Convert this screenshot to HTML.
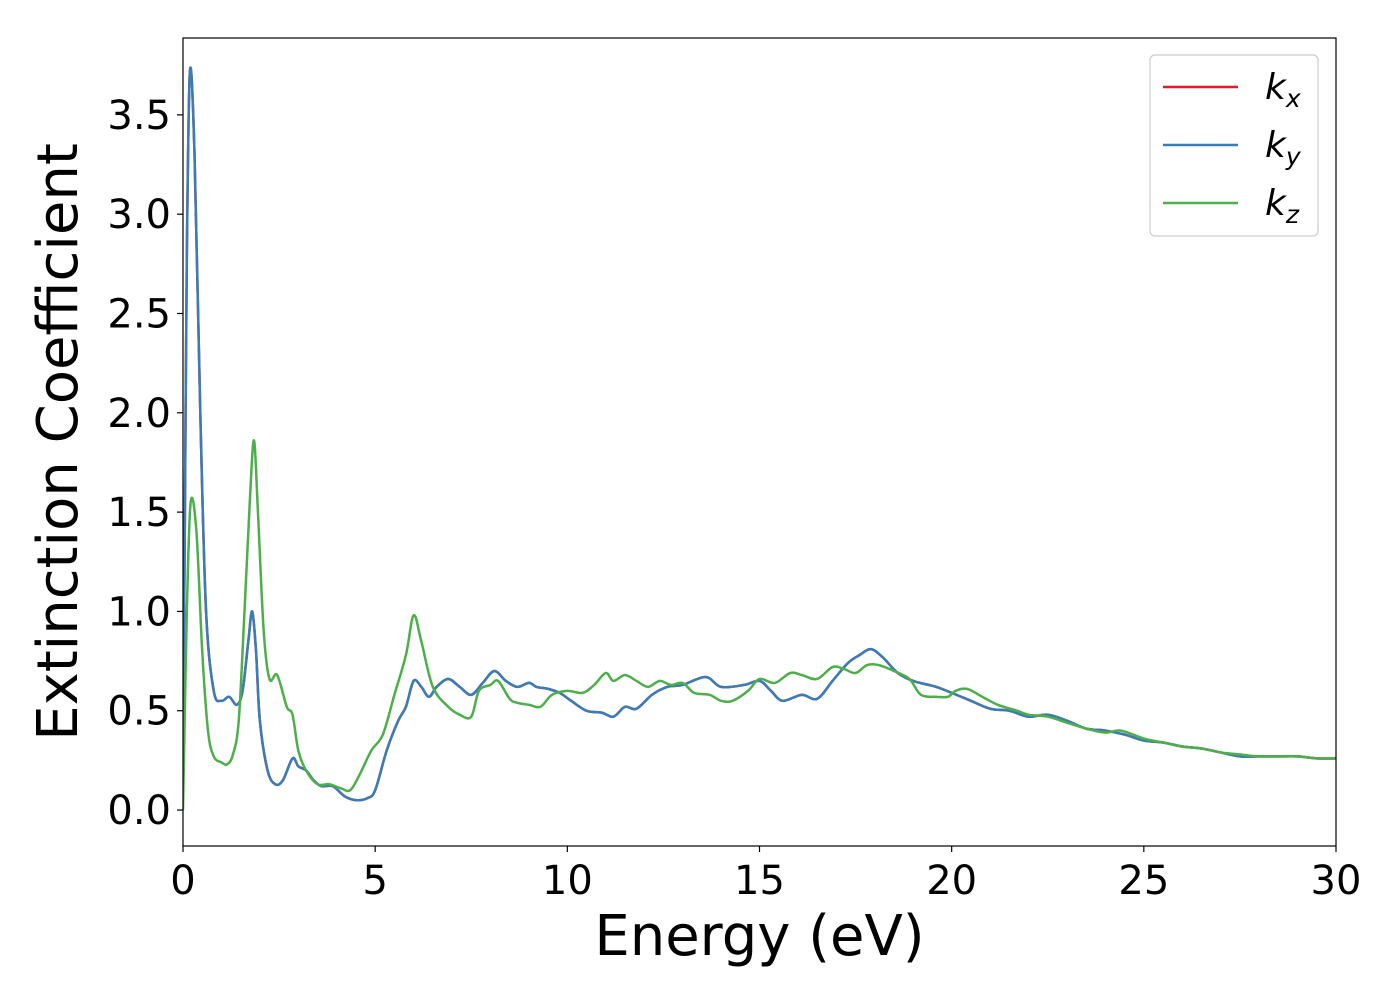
<!DOCTYPE html>
<html><head><meta charset="utf-8"><style>
body{margin:0;background:#fff;}
svg text{font-family:"DejaVu Sans","Liberation Sans",sans-serif;fill:#000;}
</style></head><body>
<svg id="chart" width="1400" height="1000" xmlns="http://www.w3.org/2000/svg">
<g id="plot"></g>
</svg>
<script>
const kxE=[0,0.05,0.1,0.18,0.3,0.45,0.6,0.8,1.0,1.2,1.4,1.55,1.7,1.8,1.9,2.0,2.2,2.4,2.6,2.85,3.0,3.2,3.4,3.6,3.9,4.2,4.5,4.8,5.0,5.3,5.6,5.8,6.0,6.2,6.4,6.6,6.9,7.2,7.5,7.8,8.1,8.4,8.7,9.0,9.2,9.5,9.8,10.1,10.5,10.9,11.2,11.5,11.8,12.2,12.6,13.0,13.6,14.0,14.6,15.0,15.3,15.6,16.1,16.5,16.9,17.3,17.6,17.9,18.2,18.6,19.0,19.6,20.0,20.5,21.0,21.5,22.0,22.5,23.0,23.5,24.0,24.5,25.0,25.5,26,26.5,27,27.5,28,28.5,29,29.5,30];
const kxV=[0.3,1.5,2.8,3.72,3.3,2.0,1.0,0.6,0.55,0.57,0.53,0.6,0.85,1.0,0.8,0.45,0.2,0.13,0.15,0.26,0.22,0.2,0.15,0.12,0.12,0.07,0.05,0.06,0.1,0.3,0.45,0.52,0.65,0.62,0.57,0.62,0.66,0.62,0.58,0.64,0.7,0.65,0.62,0.64,0.62,0.61,0.59,0.55,0.5,0.49,0.47,0.52,0.51,0.58,0.62,0.63,0.67,0.62,0.63,0.65,0.6,0.55,0.58,0.56,0.65,0.74,0.78,0.81,0.77,0.69,0.65,0.62,0.59,0.55,0.51,0.5,0.47,0.48,0.45,0.41,0.4,0.38,0.35,0.34,0.32,0.31,0.29,0.27,0.27,0.27,0.27,0.26,0.26];
const kyV=kxV.slice();
const kzE=[0,0.1,0.2,0.35,0.5,0.65,0.8,1.0,1.15,1.3,1.45,1.6,1.75,1.85,1.95,2.1,2.25,2.45,2.7,2.85,3.0,3.2,3.5,3.8,4.1,4.35,4.6,4.9,5.2,5.5,5.8,6.0,6.2,6.5,6.9,7.2,7.5,7.7,8.0,8.2,8.5,8.7,9.0,9.3,9.6,10.0,10.4,10.7,11.0,11.2,11.5,11.8,12.1,12.4,12.7,13.0,13.3,13.7,14.0,14.3,14.7,15.0,15.4,15.8,16.1,16.5,16.9,17.2,17.5,17.8,18.1,18.5,18.9,19.2,19.6,19.9,20.1,20.4,20.8,21.2,21.7,22.0,22.5,23.0,23.5,24.0,24.4,25.0,25.5,26,26.5,27,27.5,28,29,29.5,30];
const kzV=[0.0,1.0,1.55,1.4,0.8,0.4,0.27,0.24,0.23,0.28,0.45,1.0,1.6,1.86,1.5,0.9,0.66,0.68,0.52,0.48,0.3,0.2,0.13,0.13,0.11,0.1,0.18,0.3,0.38,0.58,0.78,0.98,0.85,0.62,0.52,0.48,0.47,0.6,0.63,0.65,0.56,0.54,0.53,0.52,0.58,0.6,0.59,0.63,0.69,0.65,0.68,0.65,0.62,0.65,0.63,0.64,0.59,0.58,0.55,0.55,0.6,0.66,0.64,0.69,0.68,0.66,0.72,0.71,0.69,0.73,0.73,0.7,0.66,0.58,0.57,0.57,0.6,0.61,0.57,0.53,0.5,0.48,0.47,0.44,0.41,0.39,0.4,0.36,0.34,0.32,0.31,0.29,0.28,0.27,0.27,0.26,0.26];
const xTicks=[0,5,10,15,20,25,30];
const yTicks=[0.0,0.5,1.0,1.5,2.0,2.5,3.0,3.5];
const L=183,R=1336,T=38,B=846,xMin=0,xMax=30,yMin=-0.181,yMax=3.887;
const sx=v=>L+(v-xMin)/(xMax-xMin)*(R-L);
const sy=v=>B-(v-yMin)/(yMax-yMin)*(B-T);
const NS="http://www.w3.org/2000/svg";
const g=document.getElementById('plot');
function mk(t,a,p){const e=document.createElementNS(NS,t);for(const k in a)e.setAttribute(k,a[k]);(p||g).appendChild(e);return e;}
function smoothPath(E,V){
 const P=E.map((e,i)=>[sx(e),sy(V[i])]);let d='M'+P[0][0]+','+P[0][1];
 for(let i=0;i<P.length-1;i++){const p0=P[i-1]||P[i],p1=P[i],p2=P[i+1],p3=P[i+2]||p2;
  const c1=[p1[0]+(p2[0]-p0[0])/6,p1[1]+(p2[1]-p0[1])/6],c2=[p2[0]-(p3[0]-p1[0])/6,p2[1]-(p3[1]-p1[1])/6];
  d+=`C${c1[0]},${c1[1]} ${c2[0]},${c2[1]} ${p2[0]},${p2[1]}`;}
 return d;}
mk('clipPath',{id:'clip'}).appendChild(document.createElementNS(NS,'rect'));
const cr=g.querySelector('#clip rect');cr.setAttribute('x',L);cr.setAttribute('y',T);cr.setAttribute('width',R-L);cr.setAttribute('height',B-T);
const series=[[kxE,kxV,'#e41a1c','kx-line'],[kxE,kyV,'#377eb8','ky-line'],[kzE,kzV,'#4daf4a','kz-line']];
series.forEach(s=>{const p=mk('path',{d:smoothPath(s[0],s[1]),fill:'none',stroke:s[2],'stroke-width':2.5,'clip-path':'url(#clip)'});

});
const fr=mk('rect',{x:L,y:T,width:R-L,height:B-T,fill:'none',stroke:'#000','stroke-width':1.2});


xTicks.forEach(t=>{mk('line',{x1:sx(t),x2:sx(t),y1:B,y2:B+6,stroke:'#000','stroke-width':1.2});
 const tx=mk('text',{x:sx(t),y:B+48,'font-size':40,'text-anchor':'middle'});tx.textContent=t;
 
 });
yTicks.forEach(t=>{mk('line',{x1:L-6,x2:L,y1:sy(t),y2:sy(t),stroke:'#000','stroke-width':1.2});
 const tx=mk('text',{x:L-12,y:sy(t)+14,'font-size':40,'text-anchor':'end'});tx.textContent=t.toFixed(1);
 
 });
const xt=mk('text',{x:(L+R)/2,y:955,'font-size':56,'text-anchor':'middle'});xt.textContent='Energy (eV)';


const yt=mk('text',{x:0,y:0,'font-size':56,'text-anchor':'middle',transform:`translate(77,${(T+B)/2}) rotate(-90)`});yt.textContent='Extinction Coefficient';


const lg=mk('g',{});


mk('rect',{x:1150,y:55,width:168,height:181,rx:5,fill:'#fff',stroke:'#ccc','stroke-width':1.2},lg);
const labs=[['x','#e41a1c'],['y','#377eb8'],['z','#4daf4a']];
labs.forEach((l,i)=>{const y=87+i*58;
 mk('line',{x1:1163,x2:1238,y1:y,y2:y,stroke:l[1],'stroke-width':2.5},lg);
 const t=mk('text',{x:1265,y:y+12,'font-size':36,'font-style':'italic'},lg);
 t.innerHTML=`k<tspan font-size="25" dy="8">${l[0]}</tspan>`;
 
 });
</script>
</body></html>
